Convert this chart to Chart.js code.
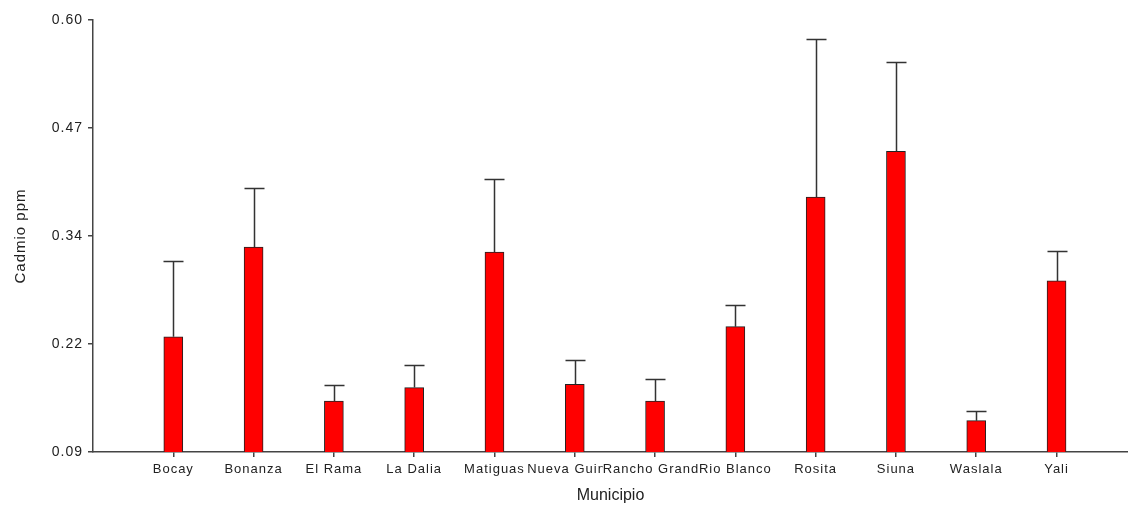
<!DOCTYPE html>
<html>
<head>
<meta charset="utf-8">
<script src="https://cdn.jsdelivr.net/npm/chart.js@4"></script>
<style>
  html, body { margin: 0; padding: 0; background: #fff; }
  #wrap { width: 1128px; height: 506px; position: relative; }
</style>
</head>
<body>
<div id="wrap"><canvas id="bar-chart" width="1128" height="506"></canvas></div>
<script>
// municipalities, mean cadmium and top of the error bar
const municipios = ["Bocay", "Bonanza", "El Rama", "La Dalia", "Matiguas", "Nueva Guinea",
  "Rancho Grande", "Rio Blanco", "Rosita", "Siuna", "Waslala", "Yali"];
const cadmio = [0.226, 0.332, 0.150, 0.166, 0.326, 0.170, 0.150, 0.238, 0.391, 0.445, 0.127, 0.292];
const cadmioSup = [0.316, 0.402, 0.169, 0.193, 0.412, 0.199, 0.176, 0.264, 0.578, 0.550, 0.138, 0.327];
const yTicks = [0.09, 0.2175, 0.345, 0.4725, 0.60];
const yTickLabels = ["0.09", "0.22", "0.34", "0.47", "0.60"];

const ink = "#222";
const axisColor = "#444";

Chart.defaults.font.family = "'Liberation Sans', Arial, sans-serif";
Chart.defaults.font.size = 13;
Chart.defaults.color = ink;

// error whiskers (upper side only)
const whiskers = {
  id: "whiskers",
  afterDatasetsDraw(chart) {
    const c = chart.ctx, xs = chart.scales.x, ys = chart.scales.y;
    c.save();
    c.strokeStyle = "#333";
    c.lineWidth = 1.5;
    cadmio.forEach((v, i) => {
      const x = Math.round(xs.getPixelForValue(i)) + 0.5;
      const y1 = ys.getPixelForValue(v);
      const y2 = Math.round(ys.getPixelForValue(cadmioSup[i])) + 0.5;
      c.beginPath();
      c.moveTo(x, y1); c.lineTo(x, y2);
      c.moveTo(x - 10, y2); c.lineTo(x + 10, y2);
      c.stroke();
    });
    c.restore();
  }
};

// x labels: centered, each later label paints over the one before it
const xLabels = {
  id: "xLabels",
  beforeDraw(chart) { chart.ctx.letterSpacing = "1px"; },
  afterDraw(chart) {
    const c = chart.ctx, xs = chart.scales.x;
    c.save();
    c.font = "13px 'Liberation Sans', Arial, sans-serif";
    c.letterSpacing = "1px";
    c.textBaseline = "top";
    c.textAlign = "left";
    const y = xs.top + 11;
    municipios.forEach((m, i) => {
      const w = c.measureText(m).width;
      const x = xs.getPixelForValue(i) - w / 2;
      c.fillStyle = "#fff";
      c.fillRect(x, y - 1, w, 16);
      c.fillStyle = ink;
      c.fillText(m, x, y);
    });
    c.font = "16px 'Liberation Sans', Arial, sans-serif";
    c.letterSpacing = "0px";
    c.textAlign = "center";
    c.fillText("Municipio", (chart.chartArea.left + chart.chartArea.right) / 2, xs.top + 36);
    c.restore();
  }
};

new Chart(document.getElementById("bar-chart"), {
  type: "bar",
  data: {
    datasets: [{
      data: cadmio.map((v, i) => ({ x: i, y: v })),
      backgroundColor: "#ff0000",
      borderColor: "#222",
      borderWidth: 1,
      borderSkipped: false,
      barThickness: 19
    }]
  },
  options: {
    responsive: false,
    animation: false,
    layout: { padding: { top: 20, right: 0, left: 0, bottom: 0 } },
    plugins: { legend: { display: false }, tooltip: { enabled: false } },
    scales: {
      x: {
        type: "linear",
        offset: false,
        min: -1,
        max: 11.89,
        afterBuildTicks(s) { s.ticks = municipios.map((m, i) => ({ value: i })); },
        afterFit(s) { s.height = 54; },
        ticks: { autoSkip: false, maxRotation: 0, callback: () => "" },
        grid: { offset: false, drawOnChartArea: false, drawTicks: true, tickLength: 5, color: axisColor, lineWidth: 1.5 },
        border: { color: axisColor, width: 1.5 }
      },
      y: {
        min: 0.09,
        max: 0.60,
        afterBuildTicks(s) { s.ticks = yTicks.map(v => ({ value: v })); },
        afterFit(s) { s.width = 93; },
        ticks: {
          padding: 5,
          font: { size: 14 },
          callback: (v, i) => yTickLabels[i]
        },
        title: { display: true, text: "Cadmio ppm", font: { size: 15 }, padding: { top: 12, bottom: 8 } },
        grid: { drawOnChartArea: false, drawTicks: true, tickLength: 5, color: axisColor, lineWidth: 1.5 },
        border: { color: axisColor, width: 1.5 }
      }
    }
  },
  plugins: [whiskers, xLabels]
});
</script>
</body>
</html>
